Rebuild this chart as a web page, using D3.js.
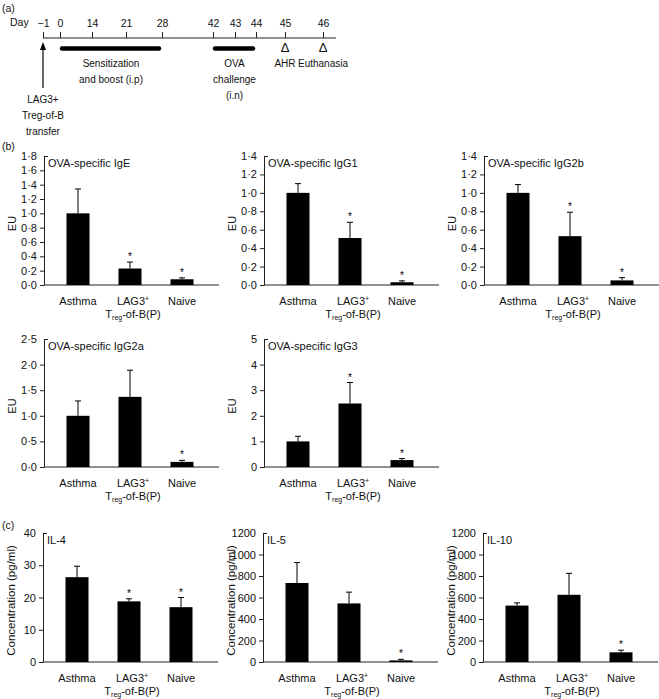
<!DOCTYPE html>
<html>
<head>
<meta charset="utf-8">
<script src="https://cdn.jsdelivr.net/npm/d3@7"></script>
<style>
body { margin: 0; background: #fff; }
text { font-family: "Liberation Sans", Arial, sans-serif; fill: #111; }
</style>
</head>
<body>
<div id="fig"></div>
<script>
var width = 659;
var height = 699;

// (a) timeline schematic
var timelineDays = [-1, 0, 14, 21, 28, 42, 43, 44, 45, 46];
var timelineX = [43, 60, 92, 126, 162, 213, 235, 256, 285, 323];
var sensitization = [0, 28];
var challenge = [42, 44];
var checkDays = [45, 46];
var checkNames = ["AHR", "Euthanasia"];

// (b) and (c) bar panels
var groups = ["Asthma", "LAG3", "Naive"];

var igeMean = [1.0, 0.23, 0.08];
var igeErr = [0.34, 0.09, 0.02];
var igeStar = [0, 1, 1];
var igeTicks = [0, 0.2, 0.4, 0.6, 0.8, 1.0, 1.2, 1.4, 1.6, 1.8];

var igg1Mean = [1.0, 0.51, 0.03];
var igg1Err = [0.10, 0.17, 0.015];
var igg1Star = [0, 1, 1];
var igg1Ticks = [0, 0.2, 0.4, 0.6, 0.8, 1.0, 1.2, 1.4];

var igg2bMean = [1.0, 0.53, 0.05];
var igg2bErr = [0.09, 0.26, 0.03];
var igg2bStar = [0, 1, 1];
var igg2bTicks = [0, 0.2, 0.4, 0.6, 0.8, 1.0, 1.2, 1.4];

var igg2aMean = [1.0, 1.37, 0.10];
var igg2aErr = [0.29, 0.52, 0.03];
var igg2aStar = [0, 0, 1];
var igg2aTicks = [0, 0.5, 1.0, 1.5, 2.0, 2.5];

var igg3Mean = [1.0, 2.48, 0.27];
var igg3Err = [0.20, 0.82, 0.06];
var igg3Star = [0, 1, 1];
var igg3Ticks = [0, 1, 2, 3, 4, 5];

var il4Mean = [26.3, 18.8, 17.0];
var il4Err = [3.4, 0.8, 3.0];
var il4Star = [0, 1, 1];
var il4Ticks = [0, 10, 20, 30, 40];

var il5Mean = [735, 545, 15];
var il5Err = [190, 105, 10];
var il5Star = [0, 0, 1];
var il5Ticks = [0, 200, 400, 600, 800, 1000, 1200];

var il10Mean = [525, 625, 90];
var il10Err = [25, 200, 20];
var il10Star = [0, 0, 1];
var il10Ticks = [0, 200, 400, 600, 800, 1000, 1200];

var svg = d3.select("#fig").append("svg")
    .attr("width", width)
    .attr("height", height);

var dotFormat = function (d) { return d3.format(".1f")(d).replace(".", "\u00b7"); };
var intFormat = d3.format("d");

// ---------- (a) ----------
svg.append("text").attr("x", 2).attr("y", 12).attr("font-size", 10.5).text("(a)");
svg.append("text").attr("x", 10).attr("y", 26).attr("font-size", 10.5).text("Day");

var dayScale = d3.scaleLinear().domain(timelineDays).range(timelineX);
var lineY = 38;

var dayAxis = svg.append("g")
    .attr("transform", "translate(0," + lineY + ")")
    .call(d3.axisTop(dayScale).tickValues(timelineDays).tickSize(6).tickPadding(5)
        .tickFormat(function (d) { return d < 0 ? "\u2212" + (-d) : d; }));
dayAxis.select(".domain").remove();
dayAxis.selectAll("line").attr("stroke", "#222");
dayAxis.selectAll("text").attr("font-size", 10.5).attr("font-family", null);

svg.append("line")
    .attr("x1", dayScale(-1)).attr("x2", 336)
    .attr("y1", lineY).attr("y2", lineY)
    .attr("stroke", "#222");

[sensitization, challenge].forEach(function (p) {
    svg.append("line")
        .attr("x1", dayScale(p[0]) + 2).attr("x2", dayScale(p[1]) - 3)
        .attr("y1", 48.5).attr("y2", 48.5)
        .attr("stroke", "#000").attr("stroke-width", 4.5)
        .attr("stroke-linecap", "round");
});

checkDays.forEach(function (d, i) {
    svg.append("text").attr("x", dayScale(d)).attr("y", 52)
        .attr("text-anchor", "middle").attr("font-size", 13).text("\u0394");
    svg.append("text").attr("x", dayScale(d)).attr("y", 67)
        .attr("text-anchor", "middle").attr("font-size", 10).text(checkNames[i]);
});

// transfer arrow on day -1
var ax = dayScale(-1);
svg.append("line").attr("x1", ax).attr("x2", ax).attr("y1", 88).attr("y2", 48)
    .attr("stroke", "#000").attr("stroke-width", 1.2);
svg.append("path")
    .attr("d", "M" + ax + ",42L" + (ax - 3) + ",50L" + (ax + 3) + ",50Z")
    .attr("fill", "#000");

function textBlock(x, y0, lines) {
    lines.forEach(function (t, i) {
        svg.append("text").attr("x", x).attr("y", y0 + i * 16)
            .attr("text-anchor", "middle").attr("font-size", 10).text(t);
    });
}
textBlock((dayScale(0) + dayScale(28)) / 2, 67, ["Sensitization", "and boost (i.p)"]);
textBlock((dayScale(42) + dayScale(44)) / 2, 67, ["OVA", "challenge", "(i.n)"]);
textBlock(ax, 103, ["LAG3+", "Treg-of-B", "transfer"]);

svg.append("text").attr("x", 2).attr("y", 150).attr("font-size", 10.5).text("(b)");
svg.append("text").attr("x", 2).attr("y", 529).attr("font-size", 10.5).text("(c)");

// ---------- bar panels ----------
function barPanel(o) {
    var g = svg.append("g");
    var yMax = d3.max(o.ticks);
    var y = d3.scaleLinear().domain([0, yMax]).range([o.oy, o.top]);
    var x = d3.scalePoint().domain(groups).range([o.ox + 34, o.ox + 138]);
    var barW = 23;

    var yAxis = g.append("g")
        .attr("transform", "translate(" + o.ox + ",0)")
        .call(d3.axisLeft(y).tickValues(o.ticks).tickSize(4).tickSizeOuter(0)
            .tickFormat(o.fmt));
    yAxis.attr("font-family", null).attr("font-size", 11);
    yAxis.selectAll("path, line").attr("stroke", "#222");
    yAxis.selectAll(".tick").filter(function (d) { return d === yMax; })
        .select("line").attr("x2", 4);

    g.append("line")
        .attr("x1", o.ox).attr("x2", o.ox + 175)
        .attr("y1", o.oy).attr("y2", o.oy)
        .attr("stroke", "#222");

    g.append("text")
        .attr("x", o.ox + 4).attr("y", o.top + 11)
        .attr("font-size", 11).text(o.title);

    g.append("text")
        .attr("transform", "translate(" + (o.ox - 28) + "," + ((o.oy + o.top) / 2 + 3) + ") rotate(-90)")
        .attr("text-anchor", "middle")
        .attr("font-size", o.ylabelSize)
        .text(o.ylabel);

    var rows = groups.map(function (name, i) {
        return {name: name, mean: o.mean[i], err: o.err[i], star: o.star[i]};
    });

    g.selectAll(".bar").data(rows).enter().append("rect")
        .attr("x", function (d) { return x(d.name) - barW / 2; })
        .attr("y", function (d) { return y(d.mean); })
        .attr("width", barW)
        .attr("height", function (d) { return o.oy - y(d.mean); })
        .attr("fill", "#000");

    g.selectAll(".err").data(rows).enter().append("line")
        .attr("x1", function (d) { return x(d.name); })
        .attr("x2", function (d) { return x(d.name); })
        .attr("y1", function (d) { return y(d.mean); })
        .attr("y2", function (d) { return y(d.mean + d.err); })
        .attr("stroke", "#000");
    g.selectAll(".cap").data(rows).enter().append("line")
        .attr("x1", function (d) { return x(d.name) - 3; })
        .attr("x2", function (d) { return x(d.name) + 3; })
        .attr("y1", function (d) { return y(d.mean + d.err); })
        .attr("y2", function (d) { return y(d.mean + d.err); })
        .attr("stroke", "#000");

    g.selectAll(".star").data(rows.filter(function (d) { return d.star; })).enter()
        .append("text")
        .attr("x", function (d) { return x(d.name); })
        .attr("y", function (d) { return y(d.mean + d.err) - 2; })
        .attr("text-anchor", "middle")
        .attr("font-size", 10)
        .style("fill", "#000")
        .text("*");

    // category labels
    var lab = g.selectAll(".lab").data(groups).enter().append("text")
        .attr("x", function (d) { return x(d) + (d === "LAG3" ? 3 : 0); })
        .attr("y", o.oy + 20)
        .attr("text-anchor", "middle")
        .attr("font-size", 11);
    lab.each(function (d) {
        var t = d3.select(this);
        if (d === "LAG3") {
            t.append("tspan").text("LAG3");
            t.append("tspan").attr("dy", -4).attr("font-size", 7).text("+");
        } else {
            t.text(d);
        }
    });
    var sub = g.append("text")
        .attr("x", x("LAG3") + 3)
        .attr("y", o.oy + 33)
        .attr("text-anchor", "middle")
        .attr("font-size", 11);
    sub.append("tspan").text("T");
    sub.append("tspan").attr("dy", 2).attr("font-size", 7).text("reg");
    sub.append("tspan").attr("dy", -2).text("-of-B(P)");
}

var row1 = {oy: 285, top: 156};
var row2 = {oy: 467, top: 339};
var row3 = {oy: 662, top: 533};
var cols = [44, 264, 484];

barPanel({ox: cols[0], oy: row1.oy, top: row1.top, ticks: igeTicks, fmt: dotFormat,
    mean: igeMean, err: igeErr, star: igeStar, title: "OVA-specific IgE", ylabel: "EU", ylabelSize: 11});
barPanel({ox: cols[1], oy: row1.oy, top: row1.top, ticks: igg1Ticks, fmt: dotFormat,
    mean: igg1Mean, err: igg1Err, star: igg1Star, title: "OVA-specific IgG1", ylabel: "EU", ylabelSize: 11});
barPanel({ox: cols[2], oy: row1.oy, top: row1.top, ticks: igg2bTicks, fmt: dotFormat,
    mean: igg2bMean, err: igg2bErr, star: igg2bStar, title: "OVA-specific IgG2b", ylabel: "EU", ylabelSize: 11});

barPanel({ox: cols[0], oy: row2.oy, top: row2.top, ticks: igg2aTicks, fmt: dotFormat,
    mean: igg2aMean, err: igg2aErr, star: igg2aStar, title: "OVA-specific IgG2a", ylabel: "EU", ylabelSize: 11});
barPanel({ox: cols[1], oy: row2.oy, top: row2.top, ticks: igg3Ticks, fmt: intFormat,
    mean: igg3Mean, err: igg3Err, star: igg3Star, title: "OVA-specific IgG3", ylabel: "EU", ylabelSize: 11});

barPanel({ox: cols[0] - 1, oy: row3.oy, top: row3.top, ticks: il4Ticks, fmt: intFormat,
    mean: il4Mean, err: il4Err, star: il4Star, title: "IL-4", ylabel: "Concentration (pg/ml)", ylabelSize: 11.5});
barPanel({ox: cols[1] - 1, oy: row3.oy, top: row3.top, ticks: il5Ticks, fmt: intFormat,
    mean: il5Mean, err: il5Err, star: il5Star, title: "IL-5", ylabel: "Concentration (pg/ml)", ylabelSize: 11.5});
barPanel({ox: cols[2] - 1, oy: row3.oy, top: row3.top, ticks: il10Ticks, fmt: intFormat,
    mean: il10Mean, err: il10Err, star: il10Star, title: "IL-10", ylabel: "Concentration (pg/ml)", ylabelSize: 11.5});
</script>
</body>
</html>
